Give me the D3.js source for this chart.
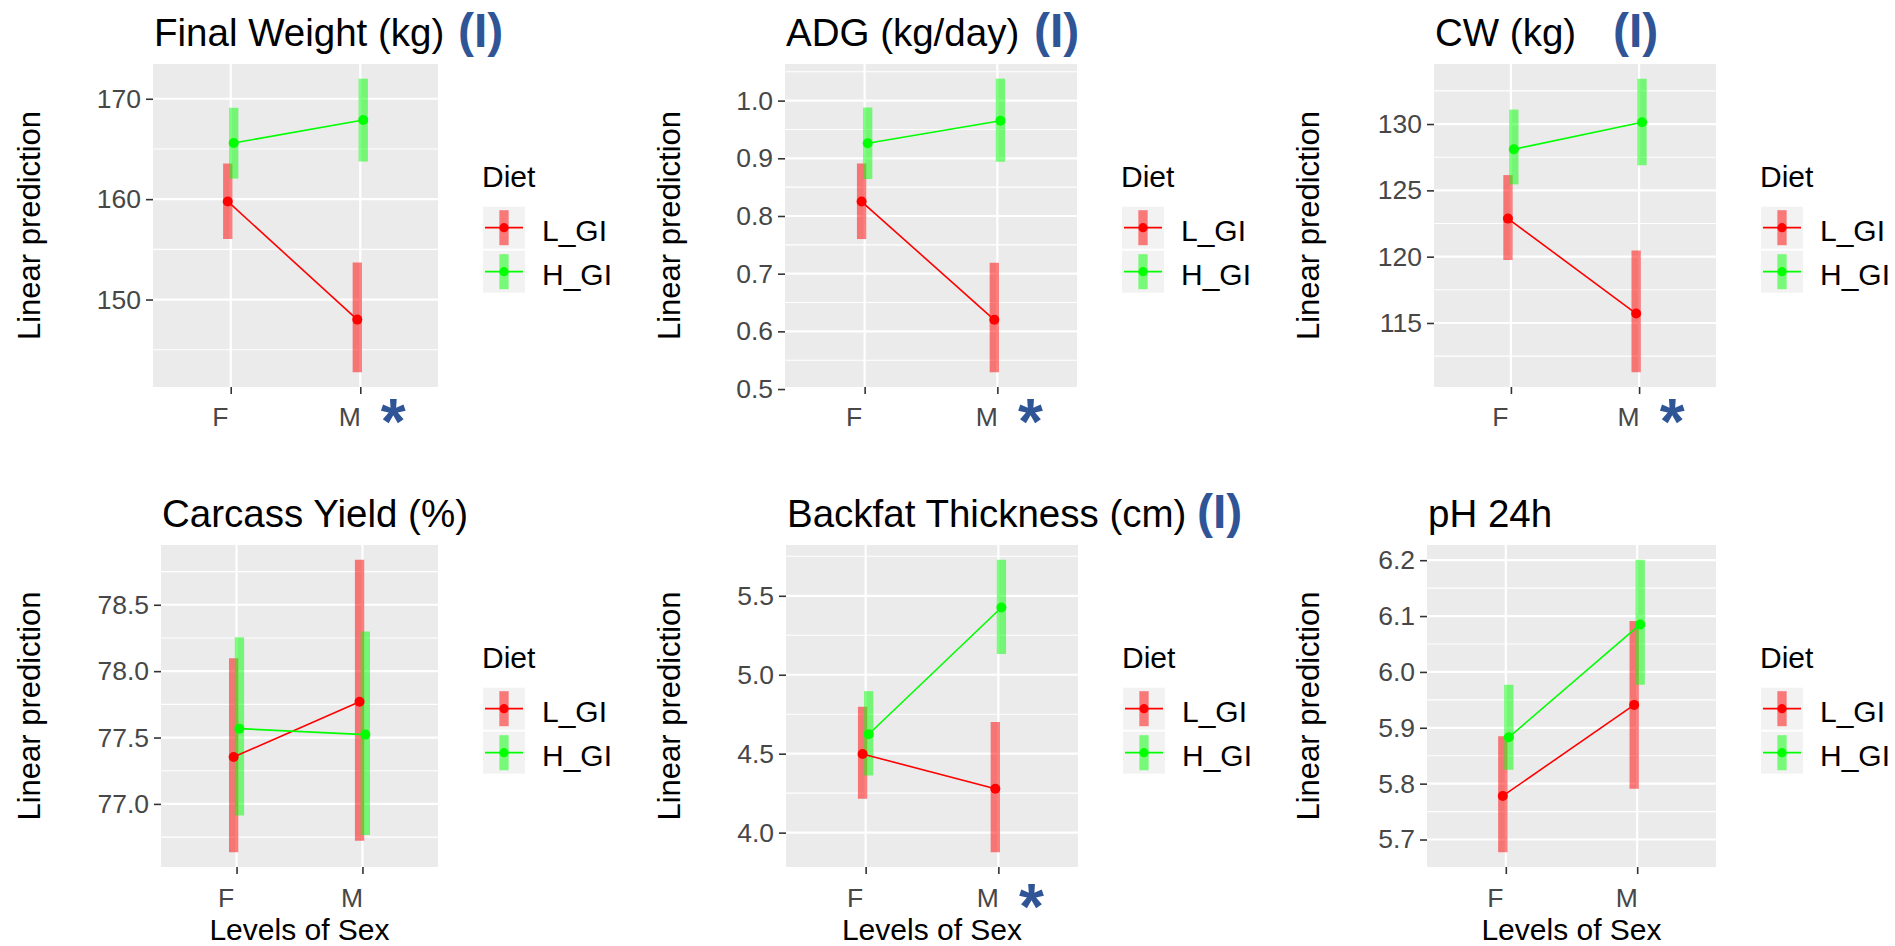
<!DOCTYPE html>
<html>
<head>
<meta charset="utf-8">
<script src="https://cdn.jsdelivr.net/npm/d3@7"></script>
<style>
  body { margin: 0; background: #fff; }
  svg { display: block; font-family: "Liberation Sans", Arial, sans-serif; }
</style>
</head>
<body>
<svg id="chart" width="1895" height="946"></svg>
<script>
// data
var sexLevels = ['F', 'M']
var diets = ['L_GI', 'H_GI']
var titles = ['Final Weight (kg)', 'ADG (kg/day)', 'CW (kg)', 'Carcass Yield (%)', 'Backfat Thickness (cm)', 'pH 24h']
var interactionMark = [true, true, true, false, true, false]
var sexMark = [true, true, true, false, true, false]
var yTicks = [
  [150, 160, 170],
  [0.5, 0.6, 0.7, 0.8, 0.9, 1.0],
  [115, 120, 125, 130],
  [77.0, 77.5, 78.0, 78.5],
  [4.0, 4.5, 5.0, 5.5],
  [5.7, 5.8, 5.9, 6.0, 6.1, 6.2]
]
var tickFormats = ['d', '.1f', 'd', '.1f', '.1f', '.1f']

// L_GI and H_GI estimates with lower / upper limits, [F, M]
var lgiMean = [[159.77, 148.0], [0.825, 0.620], [122.87, 115.71], [77.353, 77.769], [4.498, 4.278], [5.778, 5.941]]
var lgiLow = [[156.03, 142.75], [0.760, 0.529], [119.75, 111.28], [76.635, 76.723], [4.214, 3.875], [5.677, 5.791]]
var lgiHigh = [[163.55, 153.68], [0.891, 0.719], [126.15, 120.46], [78.097, 78.840], [4.797, 4.701], [5.885, 6.091]]
var hgiMean = [[165.59, 167.89], [0.926, 0.965], [128.10, 130.13], [77.567, 77.522], [4.623, 5.426], [5.883, 6.085]]
var hgiLow = [[162.05, 163.75], [0.864, 0.894], [125.45, 126.89], [76.912, 76.766], [4.362, 5.131], [5.825, 5.977]]
var hgiHigh = [[169.1, 172.0], [0.988, 1.038], [131.09, 133.42], [78.255, 78.298], [4.896, 5.729], [5.977, 6.201]]

// layout of each panel (plot area left, right, top, bottom)
var panelBox = [
  [153, 438, 64, 387], [785, 1077, 64, 387], [1434, 1716, 64, 387],
  [161, 438, 545, 867], [786, 1078, 545, 867], [1427, 1716, 545, 867]
]
var ylabX = [29, 669, 1308, 29, 669, 1308]
var markX = [458, 1034, 1613, 0, 1197, 0]

var colors = ['#FF0000', '#00FF00']
var blue = '#2F5597'
var svg = d3.select('#chart')

titles.forEach(function(title, p) {
  var b = panelBox[p]
  var left = b[0], right = b[1], top = b[2], bottom = b[3]
  var lowerRow = p >= 3
  var series = [
    {mean: lgiMean[p], low: lgiLow[p], high: lgiHigh[p], dodge: -0.023},
    {mean: hgiMean[p], low: hgiLow[p], high: hgiHigh[p], dodge: 0.023}
  ]
  var lo = d3.min(series, function(s) { return d3.min(s.low) })
  var hi = d3.max(series, function(s) { return d3.max(s.high) })
  var pad = (hi - lo) * 0.05
  var y = d3.scaleLinear().domain([lo - pad, hi + pad]).range([bottom, top])
  var x = d3.scaleLinear().domain([0.4, 2.6]).range([left, right])
  var g = svg.append('g')

  g.append('rect')
    .attr('x', left).attr('y', top)
    .attr('width', right - left).attr('height', bottom - top)
    .attr('fill', '#EBEBEB')

  // grid
  var ticks = yTicks[p]
  var step = ticks[1] - ticks[0]
  var minor = [ticks[0] - step / 2].concat(ticks.map(function(t) { return t + step / 2 }))
    .filter(function(v) { return v > y.domain()[0] + step * 0.02 && v < y.domain()[1] })
  g.selectAll('.minor').data(minor).enter().append('line')
    .attr('x1', left).attr('x2', right)
    .attr('y1', function(d) { return y(d) }).attr('y2', function(d) { return y(d) })
    .attr('stroke', '#fff').attr('stroke-width', 1.1)
  g.selectAll('.major').data(ticks).enter().append('line')
    .attr('x1', left).attr('x2', right)
    .attr('y1', function(d) { return y(d) }).attr('y2', function(d) { return y(d) })
    .attr('stroke', '#fff').attr('stroke-width', 2.2)
  g.selectAll('.vmajor').data([1, 2]).enter().append('line')
    .attr('x1', function(d) { return x(d) }).attr('x2', function(d) { return x(d) })
    .attr('y1', top).attr('y2', bottom)
    .attr('stroke', '#fff').attr('stroke-width', 2.2)

  // axes
  var ya = g.append('g')
    .attr('transform', 'translate(' + left + ',0)')
    .call(d3.axisLeft(y).tickValues(ticks).tickFormat(d3.format(tickFormats[p])).tickSize(7).tickPadding(5))
  var xa = g.append('g')
    .attr('transform', 'translate(0,' + bottom + ')')
    .call(d3.axisBottom(x).tickValues([1, 2]).tickFormat(function(d) { return sexLevels[d - 1] })
      .tickSize(7).tickPadding(lowerRow ? 14.5 : 13))
  ;[ya, xa].forEach(function(a) {
    a.select('.domain').remove()
    a.selectAll('line').attr('stroke', '#333').attr('stroke-width', 1.6)
    a.selectAll('text').attr('fill', '#474747').attr('font-size', 26.5).attr('font-family', null)
  })
  xa.selectAll('text').attr('dx', -11)

  // intervals, lines, points
  series.forEach(function(s, i) {
    g.selectAll('.bar' + i).data(sexLevels).enter().append('line')
      .attr('x1', function(d, k) { return x(k + 1 + s.dodge) })
      .attr('x2', function(d, k) { return x(k + 1 + s.dodge) })
      .attr('y1', function(d, k) { return y(s.low[k]) })
      .attr('y2', function(d, k) { return y(s.high[k]) })
      .attr('stroke', colors[i]).attr('stroke-opacity', 0.5).attr('stroke-width', 9.3)
  })
  var line = d3.line()
    .x(function(d) { return d[0] })
    .y(function(d) { return d[1] })
  series.forEach(function(s, i) {
    var pts = s.mean.map(function(v, k) { return [x(k + 1 + s.dodge), y(v)] })
    g.append('path').attr('d', line(pts))
      .attr('fill', 'none').attr('stroke', colors[i]).attr('stroke-width', 1.6)
    g.selectAll('.pt' + i).data(pts).enter().append('circle')
      .attr('cx', function(d) { return d[0] }).attr('cy', function(d) { return d[1] })
      .attr('r', 5).attr('fill', colors[i])
  })

  // titles
  g.append('text')
    .attr('x', left + 1).attr('y', top - 18)
    .attr('font-size', 38.5).attr('fill', '#000')
    .text(title)
  if (interactionMark[p]) {
    g.append('text')
      .attr('x', markX[p]).attr('y', top - 17)
      .attr('font-size', 48).attr('font-weight', 'bold').attr('fill', blue)
      .text('(I)')
  }
  if (sexMark[p]) {
    g.append('text')
      .attr('x', x(2) + 33).attr('y', bottom + (lowerRow ? 16 : 11) + 46)
      .attr('text-anchor', 'middle')
      .attr('font-size', 64).attr('font-weight', 'bold').attr('fill', blue)
      .text('*')
  }
  g.append('text')
    .attr('transform', 'translate(' + (ylabX[p] + 11) + ',' + ((top + bottom) / 2) + ') rotate(-90)')
    .attr('text-anchor', 'middle')
    .attr('font-size', 31).attr('fill', '#000')
    .text('Linear prediction')
  if (lowerRow) {
    g.append('text')
      .attr('x', (left + right) / 2).attr('y', bottom + 73)
      .attr('text-anchor', 'middle')
      .attr('font-size', 30).attr('fill', '#000')
      .text('Levels of Sex')
  }

  // legend
  var lx = right + 44
  g.append('text')
    .attr('x', lx).attr('y', top + 122.5)
    .attr('font-size', 30).attr('fill', '#000')
    .text('Diet')
  diets.forEach(function(name, i) {
    var ky = top + 142.7 + i * 44
    var kg = g.append('g').attr('transform', 'translate(' + (lx + 1) + ',' + ky + ')')
    kg.append('rect').attr('width', 42).attr('height', 42).attr('fill', '#F2F2F2')
    kg.append('line').attr('x1', 21).attr('x2', 21).attr('y1', 3.5).attr('y2', 38.5)
      .attr('stroke', colors[i]).attr('stroke-opacity', 0.5).attr('stroke-width', 9.3)
    kg.append('line').attr('x1', 2).attr('x2', 40).attr('y1', 21).attr('y2', 21)
      .attr('stroke', colors[i]).attr('stroke-width', 1.8)
    kg.append('circle').attr('cx', 21).attr('cy', 21).attr('r', 4.6).attr('fill', colors[i])
    kg.append('text').attr('x', 59).attr('y', 34.5)
      .attr('font-size', 30).attr('fill', '#000')
      .text(name)
  })
})
</script>
</body>
</html>
